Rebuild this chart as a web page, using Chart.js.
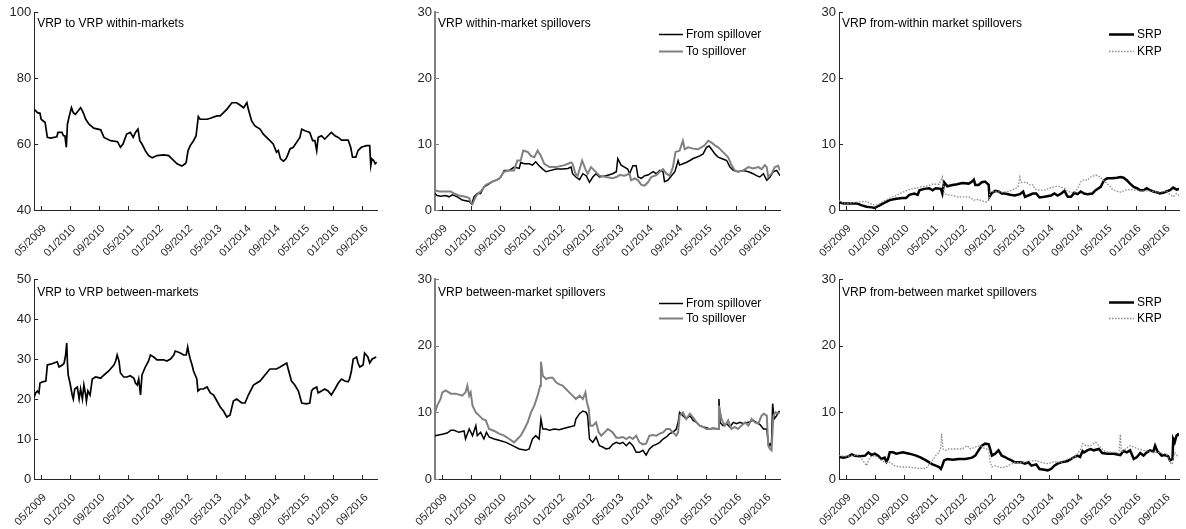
<!DOCTYPE html>
<html>
<head>
<meta charset="utf-8">
<script src="https://cdn.jsdelivr.net/npm/chart.js@4.4.1/dist/chart.umd.min.js"></script>
<style>
  html, body { margin: 0; padding: 0; background: #fff; }
  body { width: 1186px; height: 529px; position: relative; overflow: hidden; }
  .panel { position: absolute; }
</style>
</head>
<body>
<div class="panel" style="left:0px;top:0px;width:385px;height:260px"><canvas id="c1"></canvas></div>
<div class="panel" style="left:400px;top:0px;width:388px;height:260px"><canvas id="c2"></canvas></div>
<div class="panel" style="left:800px;top:0px;width:386px;height:260px"><canvas id="c3"></canvas></div>
<div class="panel" style="left:0px;top:267px;width:385px;height:262px"><canvas id="c4"></canvas></div>
<div class="panel" style="left:400px;top:267px;width:388px;height:262px"><canvas id="c5"></canvas></div>
<div class="panel" style="left:800px;top:267px;width:386px;height:262px"><canvas id="c6"></canvas></div>
<script>
// Time is measured in months since January 2009 (0 = 01/2009).
const X_MIN = 2.2;
const X_MAX = 96.0;
const tickMonths = [4, 12, 20, 28, 36, 44, 52, 60, 68, 76, 84, 92];
const tickLabels = ['05/2009', '01/2010', '09/2010', '05/2011', '01/2012', '09/2012',
                    '05/2013', '01/2014', '09/2014', '05/2015', '01/2016', '09/2016'];

// VRP to VRP within-markets (%)
const withinLevel = [[2.2,70.5],[3.1,69.5],[3.8,69.3],[4.1,67.5],[5.2,66.5],[5.8,62],[6.7,61.8],[8.4,62.2],[8.7,63.5],[9.8,63.5],[10.2,62.5],[10.6,62.5],[11.0,59],[11.3,66],[11.7,68],[12.4,71],[12.9,69.5],[13.5,69],[14.2,70],[14.9,71],[15.4,70],[15.8,69],[16.3,67.5],[17.2,66],[18.5,64.8],[20.4,64.3],[21.3,62],[23.1,61],[25.0,60.7],[25.8,59],[26.5,60],[27.5,63],[28.5,63.5],[29.3,62],[29.9,63.5],[30.6,64.5],[31.1,61],[31.7,60],[32.6,58],[33.5,56.5],[34.5,55.8],[35.8,56.5],[37.6,56.7],[39.0,56.5],[39.9,55.5],[41.3,54],[42.6,53.3],[43.5,54],[43.8,54.5],[44.3,58],[44.9,59.5],[45.8,61],[46.5,62.5],[47.1,68.3],[47.6,67.5],[49.5,67.5],[50.4,67.8],[52.2,68.5],[53.1,68.5],[54.0,69.5],[54.9,70.5],[56.3,72.5],[57.6,72.5],[58.5,71.8],[59.5,71],[60.4,72.5],[60.8,70.5],[61.7,67],[62.6,65.5],[64.0,64.5],[64.9,63],[65.8,62],[66.7,61],[67.6,60],[68.5,57.5],[69.0,58],[69.6,55.5],[70.4,54.8],[71.1,55.5],[71.5,56.5],[72.2,58.5],[73.1,59],[74.0,60.5],[74.9,62],[75.4,64.5],[76.3,64],[77.6,63.5],[78.4,61],[79.0,61],[79.5,58],[79.9,62],[80.8,62.5],[81.7,61.5],[82.6,62.5],[83.5,63.5],[84.5,62.5],[85.4,62],[86.3,61.2],[88.1,61.2],[88.8,59],[89.3,56],[90.2,56],[90.8,58],[91.7,59],[93.1,59.5],[94.0,59.5],[94.3,53.5],[94.6,55.5],[95.1,55],[95.5,54],[95.9,54.5]];

// VRP within-market spillovers
const withinFrom = [[2.2,2.5],[2.8,2.2],[3.7,2.1],[5.1,2.2],[6.0,2.0],[6.9,2.3],[8.3,2.0],[9.6,1.5],[11.5,1.3],[12.2,0.9],[12.8,2.0],[13.7,2.5],[14.6,2.5],[15.5,3.5],[16.5,3.8],[17.8,4.3],[19.2,4.6],[20.1,5.0],[21.0,6.0],[22.4,6.0],[23.7,6.5],[25.1,6.3],[25.5,7.2],[26.5,7.0],[27.8,7.0],[28.7,6.8],[29.6,7.3],[30.5,6.7],[31.5,6.2],[32.4,5.8],[33.7,6.0],[35.1,6.2],[36.9,6.2],[38.3,6.3],[39.2,6.5],[39.6,5.5],[40.5,5.0],[41.5,4.6],[42.4,5.5],[43.3,5.2],[44.2,4.2],[45.1,5.0],[46.0,5.5],[46.9,5.0],[48.7,5.2],[50.5,5.5],[51.5,5.8],[51.9,7.8],[52.8,6.8],[53.7,6.5],[54.6,6.2],[55.1,5.5],[56.0,6.7],[56.9,6.7],[57.4,5.0],[58.3,4.8],[59.2,5.2],[60.1,5.3],[61.5,5.8],[62.4,5.5],[63.3,6.0],[64.2,5.8],[64.6,4.3],[65.5,4.5],[66.5,5.2],[67.4,5.8],[67.8,6.5],[68.3,7.5],[68.7,6.8],[69.6,7.0],[70.5,7.2],[71.5,7.5],[72.4,7.8],[73.3,8.0],[74.2,8.2],[75.1,8.5],[76.0,9.5],[76.7,9.7],[77.4,9.2],[78.3,8.5],[79.2,8.0],[80.1,7.8],[81.5,7.5],[82.4,6.5],[83.3,6.0],[84.6,5.8],[86.0,6.0],[87.4,5.8],[88.7,5.5],[89.6,5.2],[90.5,5.0],[91.5,5.5],[92.4,4.5],[93.3,5.0],[94.2,5.8],[95.1,6.0],[96.0,5.2]];
const withinTo = [[2.2,3.0],[3.3,2.8],[5.1,2.8],[6.5,2.8],[7.4,2.5],[8.7,2.2],[10.5,2.0],[11.5,1.8],[11.9,1.2],[12.4,0.9],[13.1,1.8],[13.7,2.4],[14.6,2.8],[16.0,3.8],[17.8,4.3],[19.6,4.7],[21.0,5.8],[22.4,6.0],[23.7,6.0],[24.6,7.5],[25.5,7.5],[26.2,9.0],[27.4,8.8],[28.3,8.2],[29.2,8.0],[30.1,9.0],[31.0,8.2],[31.9,7.0],[33.3,6.5],[35.1,6.5],[37.4,6.8],[39.2,7.2],[39.6,7.0],[40.4,5.5],[41.0,5.2],[42.2,7.5],[43.1,6.2],[43.7,5.5],[44.6,6.5],[45.5,6.0],[46.9,5.2],[48.7,5.0],[50.5,4.8],[51.5,5.0],[52.4,5.3],[53.7,5.2],[55.1,5.5],[55.5,4.5],[56.5,4.8],[57.4,4.5],[58.3,3.8],[59.2,3.7],[60.1,4.2],[61.0,5.0],[62.4,5.3],[63.3,5.8],[64.2,6.2],[65.1,5.5],[66.0,5.2],[66.9,6.5],[67.6,8.8],[68.7,9.0],[69.6,10.5],[70.1,9.2],[71.0,9.5],[72.4,9.3],[73.7,9.2],[74.6,9.5],[75.5,9.8],[76.5,10.5],[77.4,10.2],[78.3,9.8],[79.2,9.5],[80.1,9.0],[81.0,8.5],[81.9,8.0],[82.8,6.8],[83.7,6.0],[84.6,5.8],[86.0,6.0],[87.4,6.5],[88.7,6.3],[90.1,6.5],[91.0,6.2],[91.9,6.8],[92.4,6.5],[92.8,5.0],[93.7,5.5],[94.6,6.5],[95.5,6.7],[96.0,6.0]];

// VRP from-within market spillovers
const withinSRP = [[2.2,1.2],[3.5,1.0],[5.3,1.0],[7.1,1.0],[8.5,0.7],[9.8,0.5],[11.2,0.4],[12.1,0.3],[13.0,0.6],[14.4,1.0],[16.2,1.5],[18.0,1.7],[19.8,1.8],[20.7,1.8],[21.6,2.3],[23.0,2.5],[23.9,2.3],[24.4,3.0],[25.7,3.2],[27.1,3.3],[28.0,3.0],[28.9,3.3],[30.3,3.2],[30.7,2.5],[31.2,4.2],[32.1,3.6],[33.5,3.8],[34.8,3.9],[36.2,4.1],[38.0,4.0],[38.9,4.3],[39.4,4.6],[39.8,3.8],[40.7,3.8],[41.6,4.2],[42.5,4.3],[43.5,3.8],[43.7,2.0],[44.4,2.6],[45.3,2.9],[46.2,2.8],[47.1,2.5],[48.0,2.5],[49.4,2.3],[50.7,2.2],[52.1,2.4],[53.0,2.8],[53.5,2.0],[54.4,2.2],[55.7,2.5],[56.6,2.5],[57.5,1.9],[58.9,2.0],[60.7,2.2],[61.6,2.5],[62.5,2.2],[63.5,2.5],[64.4,2.9],[65.3,2.0],[66.2,2.0],[67.1,2.6],[68.0,2.4],[68.9,2.8],[69.8,2.5],[70.7,2.4],[72.1,2.5],[73.0,3.0],[74.4,3.5],[75.3,4.5],[76.2,4.8],[77.5,4.8],[78.9,4.9],[79.8,5.0],[80.7,4.9],[81.6,4.5],[82.5,4.0],[83.5,3.5],[84.4,3.3],[85.3,3.0],[86.2,3.0],[87.1,3.3],[88.0,3.0],[88.9,2.8],[89.8,2.7],[90.7,2.5],[91.6,2.6],[92.5,2.8],[93.5,3.0],[94.4,3.4],[95.3,3.1],[96.0,3.2]];
const withinKRP = [[2.2,1.4],[3.9,0.9],[5.7,1.1],[7.1,1.2],[9.8,1.3],[10.7,1.0],[12.1,0.7],[13.0,0.8],[14.4,1.3],[16.2,1.8],[18.0,2.2],[19.4,2.6],[20.7,2.9],[22.1,3.2],[23.5,3.3],[24.8,3.5],[26.2,3.6],[28.0,3.9],[29.8,3.9],[30.7,5.0],[31.2,2.5],[32.1,2.3],[33.5,2.2],[34.8,2.0],[36.2,2.0],[38.0,2.0],[39.4,1.5],[40.7,1.6],[42.1,1.3],[43.0,1.2],[43.5,1.5],[43.9,2.8],[45.3,2.8],[47.1,2.7],[48.9,2.8],[50.7,3.2],[51.6,3.5],[52.1,5.0],[52.5,4.2],[53.9,4.2],[54.8,3.8],[55.7,3.8],[56.2,3.2],[57.1,3.0],[58.9,3.0],[60.7,3.4],[62.5,3.6],[64.4,3.3],[65.3,2.8],[66.2,2.7],[67.1,2.6],[68.0,3.2],[68.9,4.3],[69.8,4.6],[70.7,4.5],[71.6,5.0],[73.0,5.3],[73.9,5.1],[74.8,4.7],[75.7,4.2],[76.6,3.8],[77.5,3.2],[78.5,2.9],[79.8,2.7],[81.2,3.0],[82.5,3.1],[83.9,3.0],[85.3,2.9],[87.1,2.9],[88.9,2.8],[90.7,2.7],[92.5,2.9],[93.5,2.3],[94.4,2.0],[95.3,2.5],[96.0,2.2]];

// VRP to VRP between-markets (%)
const betweenLevel = [[2.2,20.5],[2.6,21.5],[3.1,22.0],[3.5,21.5],[3.8,24.0],[4.5,24.3],[5.4,24.5],[5.8,28.5],[6.7,28.7],[7.6,29.0],[8.5,29.3],[9.0,28.0],[9.9,28.5],[10.4,29.0],[10.8,31.0],[11.1,34.0],[11.3,29.0],[11.5,26.0],[12.0,24.0],[12.4,22.0],[12.6,21.0],[12.9,20.0],[13.3,22.5],[14.0,23.0],[14.5,20.0],[14.9,22.5],[15.4,20.0],[15.8,23.5],[16.3,21.0],[16.5,19.5],[16.9,22.0],[17.5,21.0],[18.1,25.0],[19.0,25.5],[20.4,25.2],[21.3,26.0],[22.6,27.0],[24.0,28.5],[24.5,29.5],[24.9,31.0],[25.4,29.5],[25.8,26.5],[26.7,25.5],[27.6,25.5],[28.5,25.8],[29.5,25.2],[29.9,24.0],[30.4,23.5],[30.8,25.0],[31.3,21.0],[31.7,26.0],[32.6,28.0],[33.5,29.5],[34.0,31.0],[34.9,30.5],[35.8,29.8],[37.6,29.8],[38.5,29.5],[39.5,30.0],[40.4,31.0],[40.8,32.0],[42.2,31.5],[43.1,31.0],[43.8,31.0],[44.2,33.0],[44.5,31.5],[44.9,30.0],[45.4,28.5],[45.8,27.0],[46.7,25.0],[47.0,22.0],[47.6,22.5],[48.5,22.5],[49.5,23.0],[50.4,21.5],[51.3,21.0],[52.2,19.5],[53.1,18.0],[54.0,17.0],[54.9,15.5],[55.8,16.0],[56.7,19.5],[57.6,20.0],[59.0,19.0],[59.9,19.0],[60.8,21.0],[62.2,23.5],[63.1,24.0],[64.0,24.5],[64.9,25.5],[65.8,26.5],[66.7,27.5],[67.6,27.5],[68.5,27.5],[69.5,28.0],[70.4,28.5],[71.3,29.0],[71.7,27.5],[72.6,24.5],[73.5,23.5],[74.5,22.0],[75.4,19.0],[76.7,18.8],[77.6,19.0],[78.1,22.0],[78.5,22.5],[79.5,23.0],[79.9,21.5],[80.8,22.0],[81.7,22.5],[82.6,22.0],[83.5,21.0],[84.5,22.5],[85.4,24.0],[86.3,25.0],[87.2,24.5],[88.1,24.3],[88.5,25.0],[89.0,27.0],[89.5,30.0],[90.4,30.5],[90.8,29.0],[91.3,28.0],[92.2,28.5],[92.6,31.5],[93.5,30.5],[94.0,29.0],[94.7,30.0],[95.8,30.5]];

// VRP between-market spillovers
const betweenFrom = [[2.2,6.5],[4.2,6.7],[5.5,6.9],[6.5,7.3],[7.4,7.3],[8.7,7.0],[10.1,7.2],[10.5,6.0],[11.5,7.5],[12.4,6.5],[13.3,8.0],[13.7,6.5],[14.6,7.0],[15.5,6.0],[16.2,7.0],[16.9,6.3],[18.3,6.0],[19.6,5.8],[21.5,5.5],[23.3,5.0],[25.1,4.5],[26.9,4.3],[27.8,4.5],[28.7,6.0],[29.6,6.5],[30.5,6.0],[31.0,9.0],[31.5,7.5],[32.4,7.5],[33.3,7.3],[34.6,7.5],[36.0,7.4],[37.4,7.6],[38.7,7.8],[40.1,8.0],[40.5,9.0],[41.5,9.8],[42.4,10.2],[43.3,10.0],[43.7,9.5],[44.2,6.0],[45.1,5.5],[46.0,6.3],[46.9,5.0],[47.8,4.8],[48.7,4.5],[49.6,4.6],[50.5,5.2],[51.5,5.5],[52.4,5.3],[53.3,5.5],[54.2,5.0],[55.1,5.5],[56.0,5.0],[56.9,4.0],[57.8,4.0],[58.7,4.3],[59.6,3.6],[60.5,4.5],[61.5,5.0],[62.4,5.2],[63.3,5.5],[64.2,6.0],[65.1,6.3],[66.0,6.8],[66.9,7.0],[67.8,7.5],[68.3,8.5],[68.7,10.0],[69.6,9.5],[70.5,9.0],[71.5,9.5],[72.4,8.8],[73.3,8.5],[74.2,8.0],[75.1,7.8],[76.0,7.7],[76.9,7.5],[77.8,7.6],[79.2,7.5],[79.4,12.0],[79.7,8.5],[80.5,8.0],[81.5,8.3],[82.4,7.8],[83.3,8.5],[84.2,8.3],[85.1,8.5],[86.0,8.3],[87.4,8.5],[88.7,8.8],[89.6,8.5],[90.5,8.2],[91.5,7.5],[92.4,7.5],[92.8,5.5],[93.3,5.0],[93.7,5.5],[94.0,11.3],[94.4,9.0],[95.1,9.5],[95.5,10.0],[96.0,10.2]];
const betweenTo = [[2.2,10.0],[2.8,11.0],[3.7,12.0],[4.2,13.0],[5.1,13.3],[6.5,12.8],[7.8,12.8],[9.6,12.5],[10.5,13.0],[11.0,14.0],[11.5,12.5],[11.9,13.0],[12.4,11.0],[13.3,10.0],[14.2,9.5],[15.1,9.0],[16.0,8.8],[16.9,7.5],[18.3,7.2],[19.6,6.8],[21.0,6.5],[22.4,6.0],[23.7,5.5],[24.6,6.0],[25.5,6.5],[26.5,7.5],[27.4,8.5],[28.3,10.0],[29.2,11.0],[30.1,12.5],[30.8,14.0],[31.0,17.6],[31.5,15.5],[32.4,15.0],[33.3,15.2],[34.2,15.2],[35.1,14.5],[36.0,14.2],[36.9,14.0],[37.8,13.5],[38.7,13.0],[39.6,12.5],[40.5,12.0],[41.5,12.5],[42.4,12.0],[43.1,13.0],[43.5,11.5],[44.0,10.5],[44.4,8.0],[45.1,8.0],[46.0,8.5],[46.7,7.0],[47.4,6.5],[48.3,7.0],[49.2,7.5],[50.5,7.0],[51.5,6.2],[52.4,6.2],[53.3,6.3],[54.2,6.0],[55.1,6.3],[56.0,6.0],[56.9,6.5],[57.8,5.5],[58.7,5.2],[59.6,5.3],[60.5,6.5],[61.5,6.6],[62.4,6.5],[63.3,6.8],[64.2,7.0],[65.1,7.5],[66.0,7.5],[66.9,7.0],[67.8,6.5],[68.3,7.0],[68.7,9.5],[69.6,10.0],[70.5,9.0],[71.5,9.8],[72.4,9.2],[73.3,8.5],[74.2,8.0],[75.1,7.8],[76.0,7.5],[76.9,7.5],[77.8,7.6],[79.2,7.5],[79.4,11.0],[80.1,9.0],[81.0,8.0],[81.9,8.8],[82.8,7.5],[83.7,7.8],[84.6,7.5],[85.5,8.0],[86.5,8.5],[87.4,8.0],[88.3,9.0],[89.2,8.5],[90.1,8.3],[91.0,9.5],[91.6,9.8],[92.4,9.5],[92.8,5.0],[93.3,4.5],[93.7,4.3],[94.2,9.5],[94.8,10.0],[95.5,9.8],[96.0,10.0]];

// VRP from-between market spillovers
const betweenSRP = [[2.2,3.3],[3.5,3.2],[4.8,3.4],[5.7,3.7],[6.6,3.5],[8.0,3.4],[9.4,3.5],[10.3,4.0],[11.2,3.6],[12.1,3.8],[13.0,3.5],[13.9,3.0],[14.8,3.2],[15.3,2.6],[15.7,3.0],[16.2,4.0],[17.1,4.0],[18.0,3.8],[19.8,4.0],[21.6,3.8],[23.5,3.5],[24.8,3.2],[26.2,2.8],[27.1,2.5],[28.0,2.2],[28.9,2.0],[29.8,1.8],[30.3,1.5],[30.7,2.0],[31.2,2.8],[32.1,3.0],[33.5,2.9],[35.3,3.0],[37.1,3.0],[38.9,3.2],[39.8,3.5],[40.7,4.3],[41.6,5.0],[42.5,5.3],[43.5,5.2],[43.9,4.5],[44.4,3.5],[45.3,3.8],[46.2,4.3],[47.1,3.5],[48.0,3.3],[48.9,3.0],[49.8,2.8],[50.7,2.5],[51.6,2.5],[52.5,2.5],[53.5,2.3],[54.4,2.5],[55.3,2.0],[56.6,2.2],[57.5,1.5],[58.9,1.4],[59.8,1.3],[60.7,1.5],[61.6,2.0],[62.5,2.3],[63.5,2.5],[65.3,2.7],[66.2,3.0],[67.1,3.3],[68.0,3.5],[68.7,3.3],[69.4,4.2],[69.8,4.0],[70.7,4.3],[71.6,4.5],[72.5,4.3],[73.9,4.5],[74.8,3.9],[76.2,3.8],[78.0,3.8],[79.8,3.6],[80.7,4.2],[81.6,4.0],[82.5,4.3],[83.5,3.0],[84.4,3.3],[85.3,3.9],[86.2,3.5],[87.1,4.0],[88.0,4.3],[88.9,4.1],[89.4,5.0],[90.0,4.2],[91.2,3.5],[92.1,3.6],[93.0,3.4],[93.5,2.8],[94.2,3.0],[94.4,6.0],[94.8,5.5],[95.3,6.5],[95.7,6.7],[96.0,6.5]];
const betweenKRP = [[2.2,3.5],[4.4,3.4],[7.1,3.6],[8.5,3.0],[9.8,2.0],[10.7,3.3],[12.1,3.5],[13.5,3.0],[14.8,2.5],[16.2,2.5],[17.5,2.0],[18.9,1.8],[20.7,1.8],[22.5,1.7],[24.4,1.6],[26.2,1.6],[27.1,2.2],[28.0,2.8],[28.9,3.5],[29.8,4.0],[30.3,4.8],[30.5,6.8],[30.9,4.5],[31.6,4.3],[32.5,4.5],[34.4,4.5],[36.2,4.5],[37.5,5.0],[38.5,4.5],[39.8,4.8],[41.2,5.0],[42.5,4.5],[43.5,4.5],[43.9,2.5],[44.4,1.8],[45.3,2.0],[46.2,1.8],[47.1,1.7],[48.0,1.8],[48.9,2.0],[50.7,2.5],[52.5,2.5],[54.4,2.6],[56.2,2.8],[58.0,2.5],[59.8,2.3],[61.6,2.6],[63.5,2.5],[65.3,3.0],[67.1,3.2],[68.0,3.8],[68.9,4.5],[69.4,5.3],[70.3,5.0],[71.6,5.0],[73.0,5.5],[73.9,5.0],[75.3,4.2],[77.1,4.0],[78.5,4.0],[79.4,3.8],[79.8,6.7],[80.1,4.0],[81.2,4.5],[82.5,5.0],[83.5,4.8],[84.8,4.5],[86.2,4.3],[87.5,4.2],[88.9,4.0],[90.3,4.0],[91.6,3.8],[92.5,3.8],[93.5,2.5],[94.1,2.2],[94.8,4.0],[95.5,3.5],[96.0,3.6]];

const FONT = '"Liberation Sans", Arial, Helvetica, sans-serif';
const INK = '#262626';
const GREY = '#808080';

// Inward tick marks, in-plot title and in-plot legend
const panelDecor = {
  id: 'panelDecor',
  afterDraw(chart, args, opts) {
    const { ctx, chartArea: a, scales: { x, y } } = chart;
    ctx.save();
    ctx.lineWidth = 1;
    ctx.strokeStyle = INK;
    ctx.beginPath();
    x.ticks.forEach(t => {
      const px = Math.round(x.getPixelForValue(t.value)) + 0.5;
      ctx.moveTo(px, a.bottom);
      ctx.lineTo(px, a.bottom - 4);
    });
    ctx.stroke();
    ctx.strokeStyle = opts.yColor;
    ctx.beginPath();
    y.ticks.forEach(t => {
      const py = Math.round(y.getPixelForValue(t.value)) + 0.5;
      ctx.moveTo(a.left, py);
      ctx.lineTo(a.left + 4, py);
    });
    ctx.stroke();

    ctx.fillStyle = '#000';
    ctx.font = '12px ' + FONT;
    ctx.textBaseline = 'middle';
    ctx.textAlign = 'left';
    ctx.fillText(opts.title, a.left + 3, a.top + opts.titleDy);

    if (opts.legendDy) {
      chart.data.datasets.forEach((ds, i) => {
        const ly = Math.round(a.top + opts.legendDy[i]) + 0.5;
        ctx.strokeStyle = ds.borderColor;
        ctx.lineWidth = ds.borderWidth;
        ctx.setLineDash(ds.borderDash || []);
        ctx.beginPath();
        ctx.moveTo(a.right + opts.legendX[0], ly);
        ctx.lineTo(a.right + opts.legendX[1], ly);
        ctx.stroke();
        ctx.setLineDash([]);
        ctx.fillText(ds.label, a.right + opts.legendX[1] + 3, ly);
      });
    }
    ctx.restore();
  }
};

function makePanel(id, cfg) {
  return new Chart(document.getElementById(id), {
    type: 'line',
    data: {
      datasets: cfg.series.map(s => ({
        label: s.label,
        data: s.data.map(([t, v]) => ({ x: t, y: v })),
        borderColor: s.color,
        borderWidth: s.width,
        borderDash: s.dash || [],
        order: s.order || 0,
        pointRadius: 0,
        tension: 0,
        fill: false
      }))
    },
    options: {
      responsive: true,
      maintainAspectRatio: false,
      animation: false,
      layout: { padding: { top: 12, right: cfg.padRight, bottom: 0, left: 0 } },
      plugins: {
        legend: { display: false },
        tooltip: { enabled: false },
        panelDecor: {
          title: cfg.title, titleDy: cfg.titleDy, yColor: cfg.yColor || INK,
          legendDy: cfg.legendDy, legendX: cfg.legendX
        }
      },
      scales: {
        x: {
          type: 'linear', min: X_MIN, max: X_MAX,
          afterBuildTicks: s => { s.ticks = tickMonths.map(v => ({ value: v })); },
          afterFit: s => { s.height = cfg.xHeight; },
          grid: { display: false, drawTicks: false },
          border: { display: true, color: INK, width: 1 },
          ticks: {
            autoSkip: false, minRotation: 45, maxRotation: 45, padding: 12, labelOffset: 4,
            color: INK, font: { family: FONT, size: 11 },
            callback: (v, i) => tickLabels[i]
          }
        },
        y: {
          type: 'linear', min: cfg.yMin, max: cfg.yMax,
          afterFit: s => { s.width = cfg.yWidth; },
          grid: { display: false, drawTicks: false },
          border: { display: true, color: cfg.yColor || INK, width: cfg.yBorder || 1 },
          ticks: { stepSize: cfg.yStep, padding: 3, color: INK, font: { family: FONT, size: 13 } }
        }
      }
    },
    plugins: [panelDecor]
  });
}

const topRow = { xHeight: 50, titleDy: 11.5 };
const bottomRow = { xHeight: 50, titleDy: 14 };

makePanel('c1', Object.assign({}, topRow, {
  title: 'VRP to VRP within-markets', yMin: 40, yMax: 100, yStep: 20, yWidth: 33.5, padRight: 8,
  series: [{ label: 'VRP', data: withinLevel, color: '#000', width: 1.7 }]
}));
makePanel('c2', Object.assign({}, topRow, {
  title: 'VRP within-market spillovers', yMin: 0, yMax: 30, yStep: 10, yWidth: 35, padRight: 8,
  yColor: GREY, yBorder: 2, legendDy: [22, 39], legendX: [-121, -97],
  series: [
    { label: 'From spillover', data: withinFrom, color: '#000', width: 1.5, order: 1 },
    { label: 'To spillover', data: withinTo, color: GREY, width: 2, order: 0 }
  ]
}));
makePanel('c3', Object.assign({}, topRow, {
  title: 'VRP from-within market spillovers', yMin: 0, yMax: 30, yStep: 10, yWidth: 39, padRight: 3,
  legendDy: [22, 39], legendX: [-70, -45],
  series: [
    { label: 'SRP', data: withinSRP, color: '#000', width: 2.5, order: 1 },
    { label: 'KRP', data: withinKRP, color: '#8a8a8a', width: 1.3, dash: [1.5, 1.5], order: 0 }
  ]
}));
makePanel('c4', Object.assign({}, bottomRow, {
  title: 'VRP to VRP between-markets', yMin: 0, yMax: 50, yStep: 10, yWidth: 33.5, padRight: 8,
  series: [{ label: 'VRP', data: betweenLevel, color: '#000', width: 1.7 }]
}));
makePanel('c5', Object.assign({}, bottomRow, {
  title: 'VRP between-market spillovers', yMin: 0, yMax: 30, yStep: 10, yWidth: 35, padRight: 8,
  yColor: GREY, yBorder: 2, legendDy: [24, 38.5], legendX: [-121, -97],
  series: [
    { label: 'From spillover', data: betweenFrom, color: '#000', width: 1.5, order: 1 },
    { label: 'To spillover', data: betweenTo, color: GREY, width: 2, order: 0 }
  ]
}));
makePanel('c6', Object.assign({}, bottomRow, {
  title: 'VRP from-between market spillovers', yMin: 0, yMax: 30, yStep: 10, yWidth: 39, padRight: 3,
  legendDy: [23, 38.5], legendX: [-70, -45],
  series: [
    { label: 'SRP', data: betweenSRP, color: '#000', width: 2.5, order: 1 },
    { label: 'KRP', data: betweenKRP, color: '#8a8a8a', width: 1.3, dash: [1.5, 1.5], order: 0 }
  ]
}));
</script>
</body>
</html>
